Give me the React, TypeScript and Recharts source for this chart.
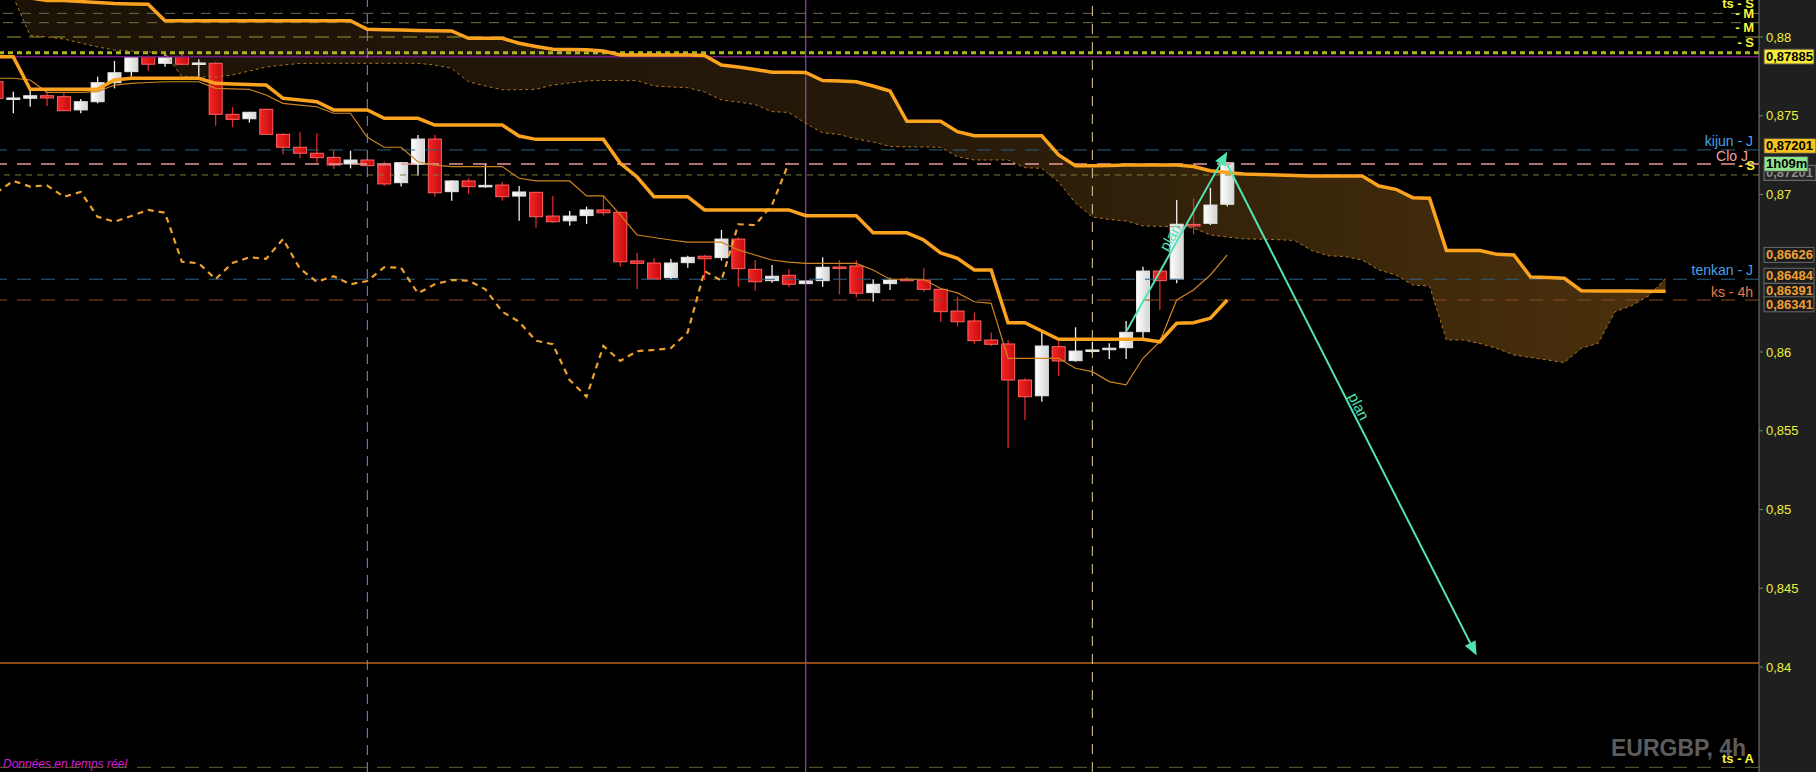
import React from 'react';
import { ComposedChart, Bar, Line, Area, XAxis, YAxis, ReferenceLine } from 'recharts';

// EURGBP 4h candles (index 0 is cut by the left edge)
const opens = [0.87716, 0.87611, 0.87611, 0.87627, 0.87621, 0.87537, 0.87589, 0.8771, 0.8778, 0.87875,
  0.87833, 0.87875, 0.8783, 0.87833, 0.87509, 0.87481, 0.87541, 0.87382, 0.873, 0.87262,
  0.87236, 0.87194, 0.87219, 0.87187, 0.87075, 0.87192, 0.87352, 0.87018, 0.87086, 0.87054,
  0.8706, 0.8699, 0.87014, 0.86863, 0.86833, 0.86866, 0.86902, 0.86887, 0.86578, 0.86565,
  0.86472, 0.86567, 0.86608, 0.86599, 0.86717, 0.86525, 0.86453, 0.86487, 0.86434, 0.86453,
  0.8654, 0.86546, 0.86377, 0.86434, 0.86462, 0.86457, 0.86398, 0.8626, 0.86197, 0.86076,
  0.86051, 0.85822, 0.85722, 0.86034, 0.85945, 0.8601, 0.86021, 0.86027, 0.86129, 0.86514,
  0.86462, 0.8681, 0.86817, 0.86938];
const highs = [0.8773, 0.87653, 0.87659, 0.87653, 0.87646, 0.87606, 0.87748, 0.87848, 0.8788, 0.87882,
  0.879, 0.879, 0.87858, 0.87843, 0.87554, 0.87525, 0.87545, 0.87389, 0.87395, 0.87389,
  0.87283, 0.87278, 0.8723, 0.87208, 0.87205, 0.87378, 0.87378, 0.8709, 0.87103, 0.87192,
  0.87081, 0.87054, 0.87016, 0.8699, 0.86895, 0.86923, 0.8699, 0.8689, 0.8663, 0.86595,
  0.8659, 0.86611, 0.86616, 0.86775, 0.86728, 0.86584, 0.86552, 0.86525, 0.86455, 0.86601,
  0.86584, 0.86584, 0.86462, 0.86472, 0.86475, 0.86531, 0.864, 0.86351, 0.8625, 0.86123,
  0.86076, 0.85833, 0.86129, 0.86076, 0.86157, 0.86065, 0.86055, 0.86197, 0.86542, 0.8652,
  0.86965, 0.86976, 0.87043, 0.87206];
const lows = [0.876, 0.87516, 0.87557, 0.87562, 0.8753, 0.87516, 0.87579, 0.87674, 0.87748, 0.87786,
  0.87811, 0.8782, 0.87748, 0.87437, 0.87427, 0.87456, 0.8738, 0.87255, 0.8723, 0.87202,
  0.87162, 0.87166, 0.87178, 0.87054, 0.8705, 0.87119, 0.86986, 0.86961, 0.87003, 0.87043,
  0.86961, 0.86834, 0.86789, 0.86821, 0.86802, 0.86813, 0.86866, 0.86542, 0.864, 0.8646,
  0.86462, 0.86535, 0.86457, 0.8658, 0.86414, 0.86389, 0.8644, 0.86411, 0.8643, 0.86414,
  0.86366, 0.86347, 0.86319, 0.86394, 0.86449, 0.86383, 0.86192, 0.86161, 0.86051, 0.86038,
  0.85389, 0.85568, 0.85684, 0.85848, 0.85938, 0.85992, 0.85956, 0.85956, 0.86087, 0.86267,
  0.86436, 0.86747, 0.86806, 0.86923];
const closes = [0.87611, 0.87613, 0.87627, 0.87613, 0.87532, 0.87589, 0.8771, 0.87773, 0.87875, 0.87827,
  0.87871, 0.87827, 0.87835, 0.87509, 0.87477, 0.87522, 0.87382, 0.873, 0.87262, 0.87234,
  0.87187, 0.87219, 0.87183, 0.87067, 0.87202, 0.87352, 0.87011, 0.87086, 0.8705, 0.87058,
  0.86986, 0.87016, 0.86859, 0.86827, 0.86863, 0.86902, 0.86884, 0.86573, 0.86563, 0.86463,
  0.86565, 0.86601, 0.86592, 0.86717, 0.86529, 0.86446, 0.86481, 0.8643, 0.86451, 0.86538,
  0.86535, 0.86373, 0.8643, 0.86457, 0.86453, 0.86398, 0.86256, 0.86192, 0.86072, 0.86049,
  0.85822, 0.85716, 0.86038, 0.85943, 0.86006, 0.86013, 0.86024, 0.86125, 0.86514, 0.86453,
  0.86811, 0.86806, 0.86933, 0.87201];

// ichimoku lines
const tenkan = [0.87738, 0.87738, 0.87727, 0.87649, 0.87649, 0.87649, 0.87653, 0.87695, 0.87706, 0.87711,
  0.87716, 0.87716, 0.87716, 0.87674, 0.8767, 0.87668, 0.87632, 0.87579, 0.87568, 0.87557,
  0.87516, 0.87516, 0.87363, 0.873, 0.873, 0.87208, 0.87187, 0.87177, 0.87177, 0.87177,
  0.87177, 0.87103, 0.87086, 0.87086, 0.87086, 0.86991, 0.86991, 0.8687, 0.86743, 0.86727,
  0.86711, 0.86697, 0.86697, 0.86697, 0.86648, 0.86616, 0.86584, 0.86571, 0.86563, 0.86563,
  0.86563, 0.86563, 0.86521, 0.86462, 0.86462, 0.86462, 0.86403, 0.86375, 0.86319, 0.86309,
  0.8596, 0.8596, 0.8596, 0.8596, 0.85897, 0.85875, 0.85812, 0.85791, 0.8596, 0.86065,
  0.8633, 0.86394, 0.86489, 0.86616];
const kijun = [0.87875, 0.87875, 0.87668, 0.87668, 0.87668, 0.87668, 0.87668, 0.87727, 0.87738, 0.87738,
  0.87738, 0.87738, 0.87738, 0.87706, 0.87702, 0.87698, 0.87695, 0.87611, 0.876, 0.87589,
  0.87537, 0.87537, 0.87537, 0.87484, 0.87484, 0.87484, 0.87441, 0.87441, 0.87441, 0.87441,
  0.87441, 0.87371, 0.8735, 0.8735, 0.8735, 0.8735, 0.8735, 0.87198, 0.87111, 0.86986,
  0.86986, 0.86986, 0.86902, 0.86902, 0.86902, 0.86902, 0.86902, 0.86902, 0.86865, 0.86865,
  0.86865, 0.86865, 0.86757, 0.86757, 0.86757, 0.86711, 0.86629, 0.86595, 0.86521, 0.86521,
  0.86186, 0.86186, 0.86133, 0.86081, 0.86081, 0.86081, 0.86081, 0.86081, 0.86081, 0.86065,
  0.86182, 0.86186, 0.86214, 0.8633];
const spanA = [0.88362, 0.88254, 0.8801, 0.88, 0.87987, 0.87962, 0.87937, 0.87917, 0.87911, 0.87905,
  0.87898, 0.87748, 0.87746, 0.87746, 0.87759, 0.87784, 0.8781, 0.87822, 0.87832, 0.87833,
  0.87833, 0.87833, 0.87833, 0.87833, 0.87833, 0.87833, 0.87822, 0.87801, 0.87716, 0.87689,
  0.87665, 0.87665, 0.87668, 0.87695, 0.87708, 0.87721, 0.87724, 0.87723, 0.87723, 0.87689,
  0.87683, 0.87678, 0.87651, 0.876, 0.87587, 0.87571, 0.87526, 0.87521, 0.87451, 0.87392,
  0.87381, 0.87352, 0.87333, 0.87305, 0.87302, 0.87302, 0.873, 0.8724, 0.87219, 0.87219,
  0.87219, 0.8717, 0.87166, 0.87079, 0.86946, 0.86857, 0.86841, 0.86832, 0.868, 0.86798,
  0.86796, 0.86787, 0.86743, 0.8673, 0.86718, 0.86716, 0.86713, 0.86708, 0.86645, 0.86611,
  0.86606, 0.86584, 0.86521, 0.86489, 0.86425, 0.86419, 0.86076, 0.86076, 0.86054, 0.86022,
  0.85981, 0.85965, 0.85949, 0.85933, 0.86024, 0.86055, 0.86256, 0.86295, 0.86356, 0.86468];
const spanB = [0.8833, 0.88286, 0.88248, 0.88232, 0.88232, 0.88225, 0.88219, 0.88213, 0.8821, 0.88208,
  0.88103, 0.88103, 0.88103, 0.88103, 0.88103, 0.88103, 0.88103, 0.88103, 0.88103, 0.88103,
  0.88103, 0.88103, 0.88049, 0.88046, 0.88044, 0.88041, 0.88039, 0.88038, 0.87992, 0.87992,
  0.87992, 0.8796, 0.8794, 0.87922, 0.87921, 0.87919, 0.87911, 0.87886, 0.87886, 0.87886,
  0.87886, 0.87886, 0.87883, 0.87822, 0.8781, 0.87794, 0.87776, 0.87776, 0.87775, 0.87723,
  0.8772, 0.87716, 0.87689, 0.87657, 0.87465, 0.87465, 0.87465, 0.87399, 0.87373, 0.87373,
  0.87373, 0.87373, 0.87373, 0.87251, 0.87183, 0.87183, 0.87184, 0.87187, 0.87187, 0.87187,
  0.87187, 0.87178, 0.87151, 0.8714, 0.8713, 0.87127, 0.87124, 0.87121, 0.87117, 0.87117,
  0.87117, 0.87117, 0.87054, 0.87033, 0.8698, 0.86976, 0.86645, 0.86644, 0.86644, 0.8662,
  0.86616, 0.86476, 0.86473, 0.86468, 0.86389, 0.86387, 0.86387, 0.86387, 0.86386, 0.86385];
const CHIKOU_SHIFT = 26;

const priceTicks = [0.84, 0.845, 0.85, 0.855, 0.86, 0.87, 0.875, 0.88];

// horizontal levels drawn across the chart
const levels = [
  { price: 0.8815, color: '#6a6a48', dash: '10 8', width: 1 },
  { price: 0.88091, color: '#74744a', dash: '10 8', width: 1 },
  { price: 0.88, color: '#9a9a38', dash: '14 8', width: 1 },
  { price: 0.879, color: '#aeb822', dash: '5 4', width: 3 },
  { price: 0.87875, color: '#6c1c7c', dash: undefined, width: 1.5 },
  { price: 0.87283, color: '#2f6080', dash: '14 10', width: 1 },
  { price: 0.87194, color: '#e89a9a', dash: '14 10', width: 1.5 },
  { price: 0.87124, color: '#7e7e3a', dash: '6 5', width: 1 },
  { price: 0.86462, color: '#2f6080', dash: '14 10', width: 1 },
  { price: 0.8633, color: '#8a4a28', dash: '14 10', width: 1 },
  { price: 0.84025, color: '#8b4a12', dash: undefined, width: 2 },
  { price: 0.83363, color: '#62623a', dash: '14 10', width: 1 },
];

const verticals = [
  { at: 22, color: '#7088ee', dash: '10 7', width: 1 },
  { at: 48, color: '#9a46b8', dash: undefined, width: 1.2 },
  { at: 65, color: '#e2cf98', dash: '10 8', width: 1 },
];

// texts at the right edge of the plot, anchored to a level
const sideTags = [
  { price: 0.8815, dy: -9.5, text: 'ts - S', color: '#f4f43a', size: 13, bold: true, end: 1754 },
  { price: 0.8815, dy: 0.5, text: '- M', color: '#f4f43a', size: 13, bold: true, end: 1754 },
  { price: 0.88091, dy: 5, text: '- M', color: '#f4f43a', size: 13, bold: true, end: 1754 },
  { price: 0.88, dy: 6, text: '- S', color: '#f4f43a', size: 13, bold: true, end: 1754 },
  { price: 0.87283, dy: -8.5, text: 'kijun - J', color: '#4aa3e2', size: 14, bold: false, end: 1753 },
  { price: 0.87194, dy: -8, text: 'Clo J', color: '#f0a0a0', size: 14, bold: false, end: 1748 },
  { price: 0.87124, dy: -9.5, text: '- S', color: '#f4f43a', size: 13, bold: true, end: 1755 },
  { price: 0.86462, dy: -9.5, text: 'tenkan - J', color: '#4aa3e2', size: 14, bold: false, end: 1753 },
  { price: 0.8633, dy: -8.5, text: 'ks - 4h', color: '#ec7a48', size: 14, bold: false, end: 1753 },
  { price: 0.83363, dy: -9, text: 'ts - A', color: '#f4f43a', size: 13, bold: true, end: 1754 },
];

// price boxes on the axis
const axisTags = [
  { price: 0.87885, dy: 1.5, text: '0,87885', bg: '#f6ea3a', fg: '#000', border: '#444', w: 50 },
  { price: 0.87201, dy: 10, text: '0,87201', bg: '#262626', fg: '#8c8c8c', border: '#777', w: 52 },
  { price: 0.87201, dy: -17, text: '0,87201', bg: '#f5c21b', fg: '#000', border: '#444', w: 52 },
  { price: 0.87201, dy: 1, text: '1h09m', bg: '#8fe38f', fg: '#000', border: '#444', w: 44 },
  { price: 0.86626, dy: 1.5, text: '0,86626', bg: '#1c1c1c', fg: '#f0a032', border: '#6a6a6a', w: 50 },
  { price: 0.86484, dy: 0, text: '0,86484', bg: '#1c1c1c', fg: '#f0a032', border: '#6a6a6a', w: 50 },
  { price: 0.86391, dy: 0.5, text: '0,86391', bg: '#1c1c1c', fg: '#f0a032', border: '#6a6a6a', w: 50 },
  { price: 0.86341, dy: 6, text: '0,86341', bg: '#1c1c1c', fg: '#f0a032', border: '#6a6a6a', w: 50 },
];

const planArrows = [
  { from: { x: 67.04, y: 0.86135 }, to: { x: 73.0, y: 0.87272 } },
  { from: { x: 73.0, y: 0.8719 }, to: { x: 87.79, y: 0.84073 } },
];

const X_DOMAIN = [0.2135, 104.54];
const Y_DOMAIN = [0.833333, 0.882349];
const PLAN = '#52e3b2';
const FONT = 'Liberation Sans, Arial, sans-serif';

const rows = spanA.map((a, i) => ({
  i,
  o: opens[i],
  h: highs[i],
  l: lows[i],
  c: closes[i],
  range: i < closes.length ? [lows[i], highs[i]] : undefined,
  tenkan: tenkan[i],
  kijun: kijun[i],
  chikou: closes[i + CHIKOU_SHIFT],
  ssa: a,
  ssb: spanB[i],
  cloud: [a, spanB[i]],
}));

const Candle = (props: any) => {
  const { x, y, width, height, payload } = props;
  if (!payload || payload.o == null || !isFinite(y) || !isFinite(height)) return <g />;
  const { o, h, l, c } = payload;
  const k = height / (h - l);
  const yo = y + (h - o) * k;
  const yc = y + (h - c) * k;
  const up = c >= o;
  const cx = x + width / 2;
  const top = Math.min(yo, yc);
  const bh = Math.max(1.5, Math.abs(yc - yo));
  const bw = 13;
  return (
    <g>
      <line x1={cx} x2={cx} y1={y} y2={y + height} stroke={up ? '#f2f2f2' : '#e02828'} strokeWidth={1.3} />
      <rect x={cx - bw / 2} y={top} width={bw} height={bh}
        fill={up ? 'url(#candleUp)' : 'url(#candleDown)'}
        stroke={up ? '#e6e6e6' : '#ff6262'} strokeWidth={1} />
    </g>
  );
};

const PlanArrow = (props: any) => {
  const { x1, y1, x2, y2 } = props;
  if (![x1, y1, x2, y2].every(isFinite)) return <g />;
  const dx = x2 - x1;
  const dy = y2 - y1;
  const len = Math.hypot(dx, dy);
  const ux = dx / len;
  const uy = dy / len;
  const head = 14;
  const half = 6;
  const bx = x2 - ux * head;
  const by = y2 - uy * head;
  const pts = `${x2},${y2} ${bx - uy * half},${by + ux * half} ${bx + uy * half},${by - ux * half}`;
  let a = (Math.atan2(dy, dx) * 180) / Math.PI;
  if (a > 90) a -= 180;
  if (a < -90) a += 180;
  const r = (a * Math.PI) / 180;
  const tx = (x1 + x2) / 2 + Math.sin(r) * 8;
  const ty = (y1 + y2) / 2 - Math.cos(r) * 8;
  return (
    <g>
      <line x1={x1} y1={y1} x2={bx} y2={by} stroke={PLAN} strokeWidth={2} />
      <polygon points={pts} fill={PLAN} />
      <text x={tx} y={ty} transform={`rotate(${a} ${tx} ${ty})`} textAnchor="middle"
        dominantBaseline="central" fill={PLAN} fontSize={15} fontFamily={FONT}>plan</text>
    </g>
  );
};

const sideLabel = (t: any) => (p: any) => {
  const vb = p.viewBox || {};
  return (
    <text x={t.end} y={vb.y + t.dy} textAnchor="end" dominantBaseline="central"
      fill={t.color} fontSize={t.size} fontWeight={t.bold ? 'bold' : 'normal'} fontFamily={FONT}>
      {t.text}
    </text>
  );
};

const axisBox = (t: any) => (p: any) => {
  const vb = p.viewBox || {};
  const x = vb.x + vb.width + 5;
  const cy = vb.y + t.dy;
  return (
    <g>
      <rect x={x} y={cy - 7.5} width={t.w} height={15} fill={t.bg} stroke={t.border} strokeWidth={1} />
      <text x={x + 2} y={cy} dominantBaseline="central" fill={t.fg} fontSize={13}
        fontWeight="bold" fontFamily={FONT}>{t.text}</text>
    </g>
  );
};

export default function App() {
  return (
    <div style={{ position: 'fixed', left: 0, top: 0, width: 1816, height: 772, background: '#000', overflow: 'hidden' }}>
      <div style={{ position: 'absolute', left: 1759, top: 0, width: 57, height: 772, background: '#1f1f1f' }} />
      <svg width={1816} height={772} style={{ position: 'absolute', left: 0, top: 0 }}>
        <text x={1746} y={756} textAnchor="end" fontSize={23} fontWeight="bold" fill="#5c5c5c"
          fontFamily={FONT} textLength={135} lengthAdjust="spacingAndGlyphs">EURGBP, 4h</text>
        <text x={3} y={768} fontSize={12} fontStyle="italic" fill="#d41cd4" fontFamily={FONT}>Données en temps réel</text>
      </svg>
      <div style={{ position: 'absolute', left: 0, top: 0 }}>
        <ComposedChart width={1816} height={772} data={rows} margin={{ top: 0, right: 0, bottom: 0, left: 0 }}>
          <defs>
            <linearGradient id="cloudFill" x1="0" y1="0" x2="1" y2="0">
              <stop offset="0%" stopColor="#1b1207" />
              <stop offset="55%" stopColor="#251909" />
              <stop offset="75%" stopColor="#36240a" />
              <stop offset="100%" stopColor="#4c310c" />
            </linearGradient>
            <linearGradient id="candleDown" x1="0" y1="0" x2="1" y2="0">
              <stop offset="0%" stopColor="#f42424" />
              <stop offset="100%" stopColor="#c40e0e" />
            </linearGradient>
            <linearGradient id="candleUp" x1="0" y1="0" x2="1" y2="0">
              <stop offset="0%" stopColor="#ffffff" />
              <stop offset="100%" stopColor="#d4d4d4" />
            </linearGradient>
          </defs>
          <XAxis type="number" dataKey="i" domain={X_DOMAIN} allowDataOverflow hide />
          <YAxis orientation="right" width={57} domain={Y_DOMAIN} allowDataOverflow ticks={priceTicks}
            interval={0} tickFormatter={(v: number) => String(v).replace('.', ',')}
            tick={{ fill: '#eeee3a', fontSize: 13, fontFamily: FONT }}
            axisLine={{ stroke: '#7a7a7a' }} tickLine={{ stroke: '#7a7a7a' }} tickSize={4} tickMargin={3} />

          <Area dataKey="cloud" type="linear" stroke="none" fill="url(#cloudFill)" fillOpacity={1}
            isAnimationActive={false} activeDot={false} />

          {levels.map((lv, k) => (
            <ReferenceLine key={`lv${k}`} y={lv.price} stroke={lv.color} strokeWidth={lv.width}
              strokeDasharray={lv.dash} />
          ))}
          {verticals.map((v, k) => (
            <ReferenceLine key={`v${k}`} x={v.at} stroke={v.color} strokeWidth={v.width} strokeDasharray={v.dash} />
          ))}

          <Line dataKey="ssa" type="linear" stroke="#b07424" strokeWidth={1} strokeDasharray="3 3"
            dot={false} activeDot={false} isAnimationActive={false} />
          <Line dataKey="ssb" type="linear" stroke="#fba21e" strokeWidth={3.5}
            dot={false} activeDot={false} isAnimationActive={false} />

          <Bar dataKey="range" barSize={13} shape={Candle} isAnimationActive={false} />

          <Line dataKey="chikou" type="linear" stroke="#eea12c" strokeWidth={2.2} strokeDasharray="6 5"
            dot={false} activeDot={false} isAnimationActive={false} />
          <Line dataKey="tenkan" type="linear" stroke="#cc8420" strokeWidth={1.2}
            dot={false} activeDot={false} isAnimationActive={false} />
          <Line dataKey="kijun" type="linear" stroke="#fba21e" strokeWidth={3.5}
            dot={false} activeDot={false} isAnimationActive={false} />

          {planArrows.map((a, k) => (
            <ReferenceLine key={`plan${k}`} segment={[a.from, a.to]} ifOverflow="visible" shape={PlanArrow} />
          ))}

          {sideTags.map((t, k) => (
            <ReferenceLine key={`st${k}`} y={t.price} stroke="none" label={sideLabel(t)} />
          ))}
          {axisTags.map((t, k) => (
            <ReferenceLine key={`at${k}`} y={t.price} stroke="none" label={axisBox(t)} />
          ))}
        </ComposedChart>
      </div>
    </div>
  );
}
